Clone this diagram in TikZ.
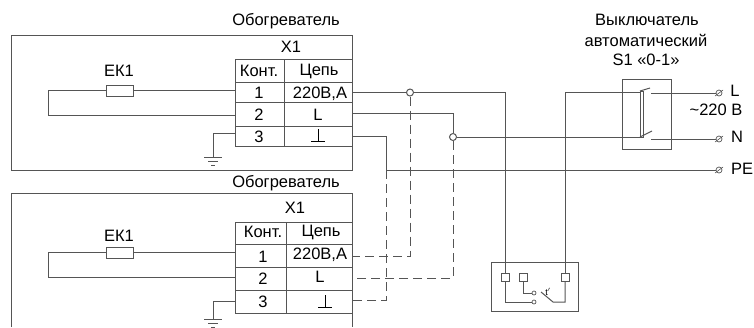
\documentclass[tikz,border=0pt]{standalone}
\usepackage{xcolor}
\definecolor{wire}{HTML}{555555}
\usepackage{fontspec}
\setmainfont{Liberation Sans}
\usepackage{tikz}
\usetikzlibrary{shapes.geometric}

\tikzset{
    wireline/.style={draw=wire, line width=1pt},
    dashline/.style={draw=wire, line width=1pt, dash pattern=on 9pt off 5pt},
    label/.style={inner sep=0, font=\fontsize{16.5}{18}\selectfont, text=black},
    heater/.style={rectangle, draw=wire, line width=1pt, fill=white, minimum width=27pt, minimum height=11pt, inner sep=0},
    junction/.style={circle, draw=wire, line width=1pt, fill=white, minimum size=7pt, inner sep=0},
    contact/.style={circle, draw=wire, line width=.7pt, fill=white, minimum size=4pt, inner sep=0},
    clamp/.style={circle, draw=wire, line width=.7pt, minimum size=6pt, inner sep=0},
    pad/.style={rectangle, draw=wire, line width=1pt, fill=white, minimum size=8pt, inner sep=0},
}

\begin{document}
\begin{tikzpicture}[x=1pt, y=-1pt]
    \useasboundingbox (0, 0) rectangle (754, 327);

    % upper heater
    \draw[wireline] (11, 35) rectangle (352, 170);
    \node (title1) at (286, 21) [label] {Обогреватель};
    \node (x1) at (291, 47) [label] {X1};
    \draw[wireline] (235, 59) rectangle (352, 146);
    \draw[wireline] (235, 82) to (352, 82);
    \draw[wireline] (235, 102) to (352, 102);
    \draw[wireline] (235, 126) to (352, 126);
    \draw[wireline] (284, 59) to (284, 146);
    \node (kont1) at (259, 71) [label] {Конт.};
    \node (chain1) at (319, 71) [label] {Цепь};
    \node (n11) at (259, 93) [label] {1};
    \node (c11) at (320, 94) [label] {220В,А};
    \node (n12) at (259, 115) [label] {2};
    \node (c12) at (318, 115) [label] {L};
    \node (n13) at (259, 137) [label] {3};
    \draw[black, line width=1pt] (311, 141) to (325, 141);
    \draw[black, line width=1pt] (318, 141) to (318, 129);

    \node (ek1) at (119, 71) [label] {ЕК1};
    \node (r1) at (119.5, 90.5) [heater] {};
    \coordinate (a1) at (235, 90.5);
    \coordinate (a2) at (235, 115);
    \coordinate (a3) at (235, 133);
    \coordinate (g1) at (213, 157);
    \draw[wireline] (a1) -- (r1);
    \draw[wireline] (r1) -- (48, 90.5) |- (a2);
    \draw[wireline] (a3) -| (g1);
    \draw[wireline] (204, 157) to (222, 157);
    \draw[wireline] (208, 161) to (218, 161);
    \draw[wireline] (211, 165) to (215, 165);

    % lower heater
    \draw[wireline] (11, 327) -- (11, 193) -- (352, 193) -- (352, 327);
    \node (title2) at (286, 183) [label] {Обогреватель};
    \node (x2) at (295, 208) [label] {X1};
    \draw[wireline] (235, 222) rectangle (352, 313);
    \draw[wireline] (235, 244) to (352, 244);
    \draw[wireline] (235, 267) to (352, 267);
    \draw[wireline] (235, 290) to (352, 290);
    \draw[wireline] (286, 222) to (286, 313);
    \node (kont2) at (263, 232) [label] {Конт.};
    \node (chain2) at (321, 232) [label] {Цепь};
    \node (n21) at (263, 257) [label] {1};
    \node (c21) at (320, 255) [label] {220В,А};
    \node (n22) at (263, 279) [label] {2};
    \node (c22) at (320, 277) [label] {L};
    \node (n23) at (263, 302) [label] {3};
    \draw[black, line width=1pt] (318, 307) to (332, 307);
    \draw[black, line width=1pt] (325, 307) to (325, 295);

    \node (ek2) at (119, 236) [label] {ЕК1};
    \node (r2) at (119.5, 252.5) [heater] {};
    \coordinate (b1) at (235, 252.5);
    \coordinate (b2) at (235, 277);
    \coordinate (b3) at (235, 301);
    \coordinate (g2) at (213, 319);
    \draw[wireline] (b1) -- (r2);
    \draw[wireline] (r2) -- (48, 252.5) |- (b2);
    \draw[wireline] (b3) -| (g2);
    \draw[wireline] (204, 319) to (222, 319);
    \draw[wireline] (208, 323) to (218, 323);
    \draw[wireline] (211, 327) to (215, 327);

    % thermostat box
    \draw[wireline] (491, 262) rectangle (578, 311);
    \node (p1) at (505, 277) [pad] {};
    \node (p2) at (523, 277) [pad] {};
    \node (p3) at (565, 277) [pad] {};
    \node (s1) at (534, 293) [contact] {};
    \node (s2) at (534, 302) [contact] {};
    \node (tt) at (548, 292) [inner sep=0, font=\fontsize{9}{9}\selectfont] {t$'$};
    \coordinate (hinge) at (553, 302);
    \draw[wireline] (p1) |- (s2);
    \draw[wireline] (p2) |- (s1);
    \draw[wireline] (p3) |- (hinge) -- (541, 292);

    % breaker
    \node (title3) at (647, 20) [label] {Выключатель};
    \node (title4) at (646, 40) [label] {автоматический};
    \node (title5) at (646, 60) [label] {S1 «0-1»};
    \draw[wireline] (622, 79) rectangle (671, 149);
    \draw[wireline] (640, 91) rectangle (643, 137);
    \draw[wireline] (640, 91) to (650, 88);
    \draw[wireline] (640, 137) to (652, 131);

    \node (tL) at (719, 93) [clamp] {};
    \node (tN) at (719, 139) [clamp] {};
    \node (tPE) at (719, 170) [clamp] {};
    \draw[wireline, line width=.6pt] (715, 96) to (723, 90);
    \draw[wireline, line width=.6pt] (715, 142) to (723, 136);
    \draw[wireline, line width=.6pt] (715, 173) to (723, 167);
    \node (lL) at (735, 91) [label] {L};
    \node (l220) at (716, 110) [label] {\textasciitilde 220 В};
    \node (lN) at (737, 137) [label] {N};
    \node (lPE) at (742, 169) [label] {PE};

    % wiring between blocks
    \node (j1) at (410, 92.5) [junction] {};
    \node (j2) at (453, 137) [junction] {};
    \coordinate (o1) at (352, 92.5);
    \coordinate (o2) at (352, 113);
    \coordinate (o3) at (352, 136);
    \coordinate (pe) at (386, 170);
    \draw[wireline] (o1) -- (j1);
    \draw[wireline] (j1) -| (p1);
    \draw[wireline] (o2) -| (j2);
    \draw[wireline] (o3) -| (pe);
    \draw[wireline] (pe) -- (tPE);
    \draw[wireline] (j2) -- (640, 137);
    \draw[wireline] (p3) |- (640, 92.5);
    \draw[wireline] (651, 93) -- (tL);
    \draw[wireline] (651, 139) -- (tN);

    \coordinate (d1) at (352, 256);
    \coordinate (d2) at (352, 278);
    \coordinate (d3) at (352, 300);
    \draw[dashline] (j1) |- (d1);
    \draw[dashline] (j2) |- (d2);
    \draw[dashline] (pe) |- (d3);
\end{tikzpicture}
\end{document}
